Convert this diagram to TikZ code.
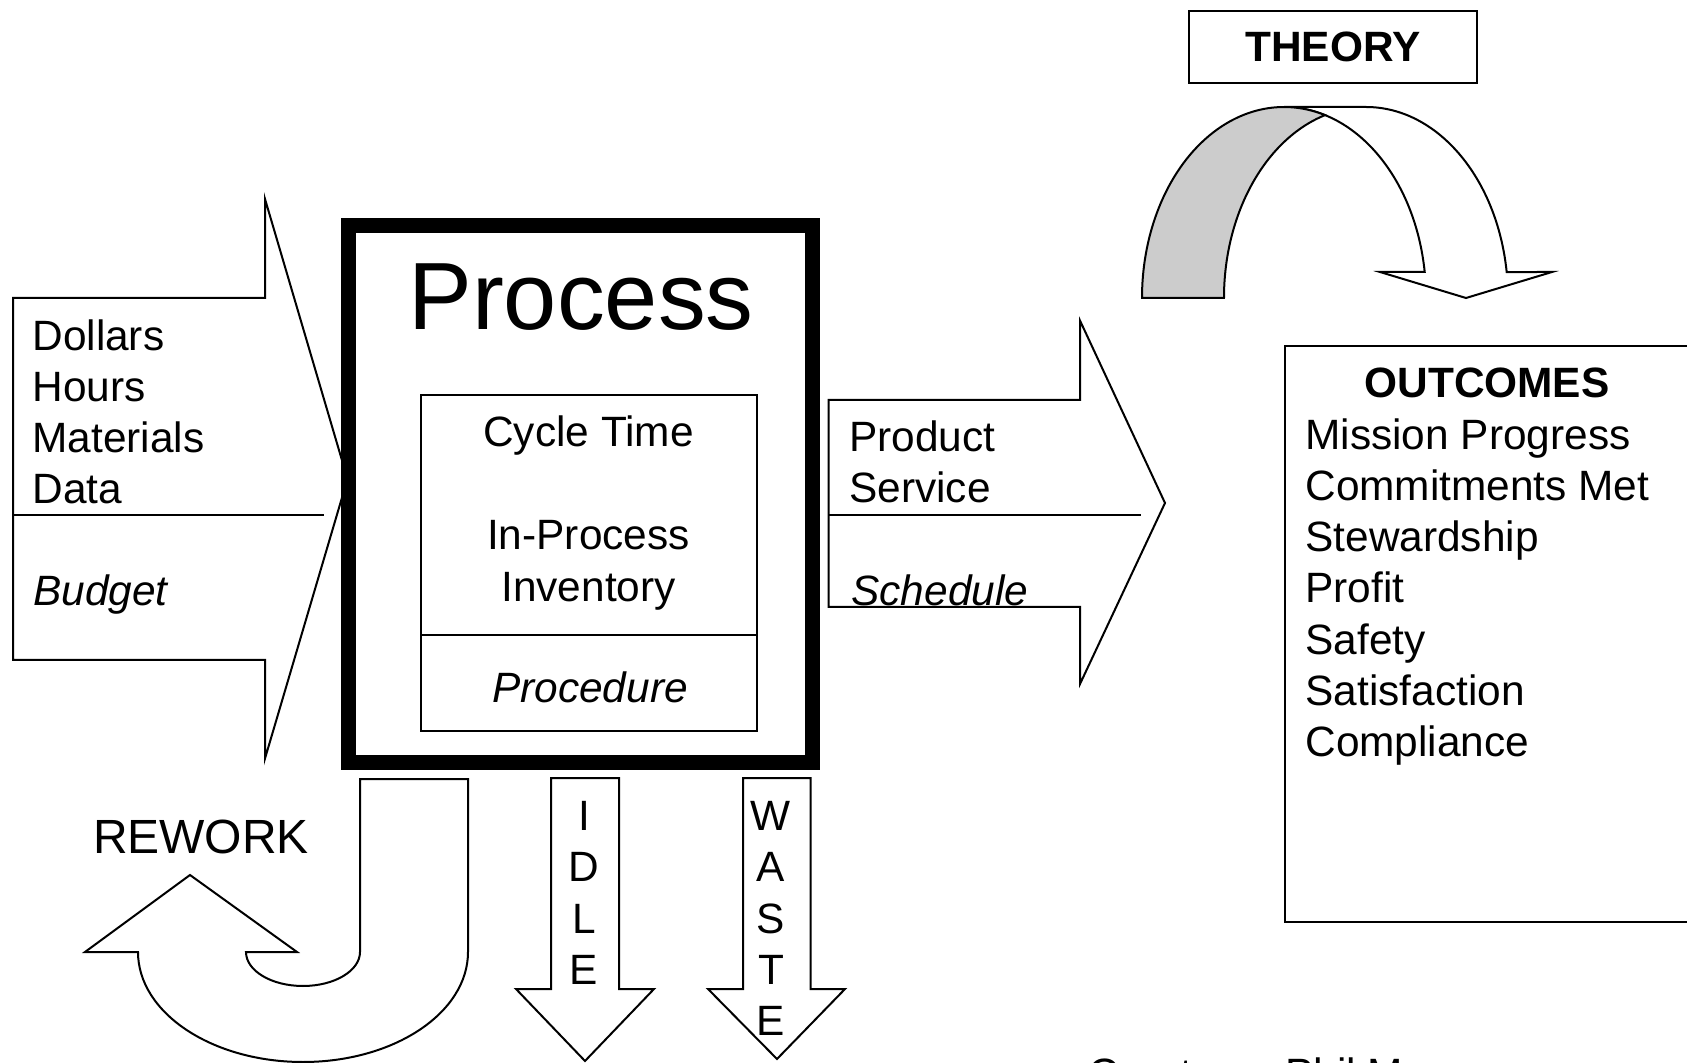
\documentclass[tikz,border=0pt]{standalone}
\usepackage{fontspec}
\setmainfont{Liberation Sans}
\begin{document}
\begin{tikzpicture}[x=0.5pt, y=-0.5pt, line join=miter,
  shapeline/.style={draw=black, line width=1pt, fill=white},
  thinline/.style={draw=black, line width=1pt},
  txt/.style={inner sep=0pt, font=\fontsize{21.2}{25}\selectfont},
  txtit/.style={txt, font=\fontsize{21.2}{25}\selectfont\itshape},
  txtbf/.style={txt, font=\fontsize{21.2}{25}\selectfont\bfseries},
  bigtxt/.style={inner sep=0pt, font=\fontsize{47.8}{56}\selectfont},
  reworktxt/.style={inner sep=0pt, font=\fontsize{24}{28}\selectfont}]

\useasboundingbox (0,0) rectangle (1687,1063);
\clip (0,0) rectangle (1687,1063);

% ---------- input arrow ----------
\draw[shapeline] (13,298) -- (265,298) -- (265,199) -- (347.5,479)
  -- (265,758.5) -- (265,660) -- (13,660) -- cycle;
\draw[thinline] (13,515) -- (324,515);
\foreach \w [count=\i] in {Dollars,Hours,Materials,Data}
  \node[txt, anchor=base west] (in\i) at (32,{351+51*(\i-1)}) {\w};
\node[txtit, anchor=base west] (budget) at (33,605.5) {Budget};

% ---------- process box ----------
\draw[line width=7.5pt, fill=white] (348.5,226) rectangle (812.5,762.5);
\node[bigtxt, anchor=base] (process) at (581,330) {Process};
\draw[thinline] (420.7,395) rectangle (757.4,730.5);
\draw[thinline] (420.7,634.8) -- (757.4,634.8);
\node[txt, anchor=base] (cycle) at (588.5,446.5) {Cycle Time};
\node[txt, anchor=base] (inproc) at (588.5,550) {In-Process};
\node[txt, anchor=base] (invent) at (588.5,601.5) {Inventory};
\node[txtit, anchor=base] (proc) at (590,702.5) {Procedure};

% ---------- output arrow ----------
\draw[shapeline] (828.5,400) -- (1080,400) -- (1080,320.6) -- (1165,503)
  -- (1080,684) -- (1080,607) -- (828.5,607) -- cycle;
\draw[thinline] (828.5,515) -- (1140.5,515);
\node[txt, anchor=base west] (product) at (849,452) {Product};
\node[txt, anchor=base west] (service) at (849,502.5) {Service};
\node[txtit, anchor=base west] (schedule) at (851,605.5) {Schedule};

% ---------- outcomes ----------
\draw[thinline] (1750,346.4) -- (1284.6,346.4) -- (1284.6,922) -- (1750,922);
\node[txtbf, anchor=base] (outc) at (1487,398) {OUTCOMES};
\foreach \w [count=\i] in {Mission Progress,Commitments Met,Stewardship,Profit,Safety,Satisfaction,Compliance}
  \node[txt, anchor=base west] (out\i) at (1305,{449.7+51.1*(\i-1)}) {\w};

% ---------- theory ----------
\draw[shapeline] (1189,11) rectangle (1477,83);
\node[txtbf] (theory) at (1333,47) {THEORY};
% front band of the curved arrow
\draw[shapeline] (1424.7,272)
  arc[start angle=352.18, end angle=270, x radius=142, y radius=191]
  -- (1366,107)
  arc[start angle=270, end angle=352.18, x radius=142, y radius=191]
  -- (1552,272) -- (1466,298) -- (1380,272) -- cycle;
% shaded back band
\draw[draw=black, line width=1pt, fill=black!20] (1142,298)
  arc[start angle=180, end angle=286.78, x radius=142, y radius=191]
  arc[start angle=253.22, end angle=180, x radius=142, y radius=191]
  -- cycle;

% ---------- rework ----------
\draw[shapeline] (360,779) -- (468,779) -- (468,952)
  arc[start angle=0, end angle=180, x radius=165, y radius=110]
  -- (85,952) -- (190,875) -- (297,952) -- (246,952)
  arc[start angle=180, end angle=0, x radius=57, y radius=34]
  -- cycle;
\node[reworktxt, anchor=base] (rework) at (201,853) {REWORK};

% ---------- idle ----------
\draw[shapeline] (551,778) -- (619,778) -- (619,989) -- (654,989)
  -- (585,1061) -- (516,989) -- (551,989) -- cycle;
\foreach \l [count=\i] in {I,D,L,E}
  \node[txt, anchor=base] (idle\i) at (584,{830.6+51.3*(\i-1)}) {\l};

% ---------- waste ----------
\draw[shapeline] (743,778) -- (810.7,778) -- (810.7,989) -- (845,989)
  -- (777,1059) -- (708,989) -- (743,989) -- cycle;
\foreach \l [count=\i] in {W,A,S,T,E}
  \node[txt, anchor=base] (waste\i) at (771,{830.6+51.3*(\i-1)}) {\l};

% ---------- credit line, running off the lower edge ----------
\node[txt, anchor=base west] (credit) at (1088,1088) {Courtesy: Phil M};

\end{tikzpicture}
\end{document}
